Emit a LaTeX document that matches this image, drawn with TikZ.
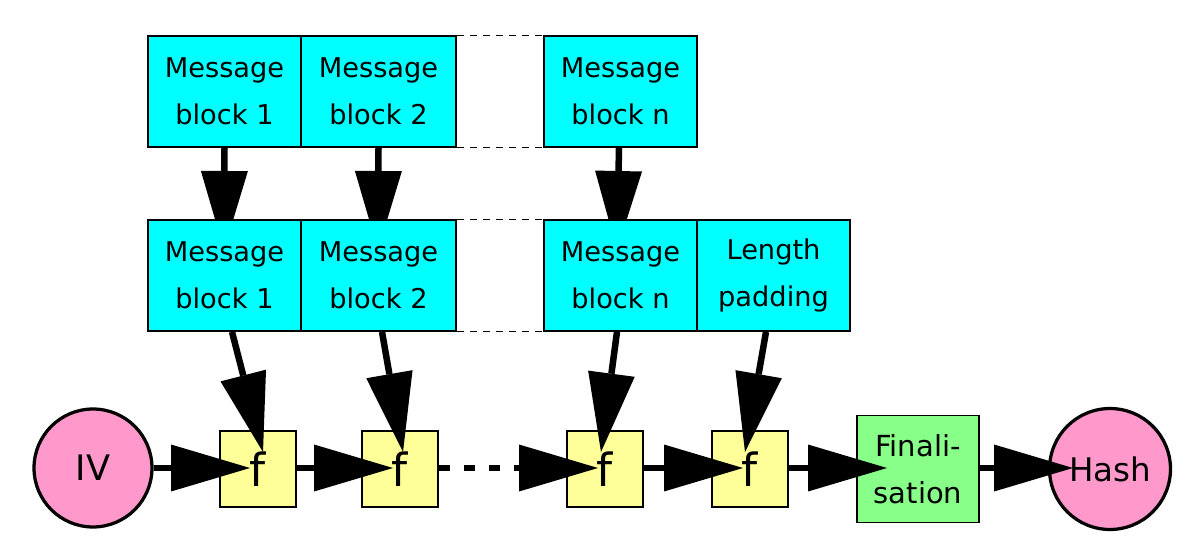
\documentclass[tikz,border=0pt]{standalone}
\usepackage{fontspec}
\setmainfont{DejaVu Sans}
\usetikzlibrary{arrows.meta,calc}
\definecolor{cyanbox}{HTML}{00FFFF}
\definecolor{fyellow}{HTML}{FFFF99}
\definecolor{fgreen}{HTML}{88FF88}
\definecolor{fpink}{HTML}{FF99CC}
\begin{document}
\begin{tikzpicture}[x=0.02cm,y=-0.02cm,
  blk/.style={draw=black, line width=0.035cm, fill=cyanbox, minimum width=3.06cm, minimum height=2.22cm, inner sep=0pt, align=center, font=\fontsize{15.5}{26.5}\selectfont},
  fblk/.style={draw=black, line width=0.035cm, fill=fyellow, minimum size=1.53cm, inner sep=0pt, font=\fontsize{26}{30}\selectfont},
  endpt/.style={draw=black, line width=0.065cm, fill=fpink, circle, minimum size=2.36cm, inner sep=0pt, font=\fontsize{20}{24}\selectfont},
  bigarrow/.style={line width=0.13cm, -{Triangle[length=1.58cm,width=0.94cm,line width=0pt]}},
  thindash/.style={line width=0.025cm, dash pattern=on 0.14cm off 0.12cm},
  thickdash/.style={line width=0.13cm, dash pattern=on 0.22cm off 0.28cm}]
\useasboundingbox (0,0) rectangle (1200,560);

% top row
\node[blk] (t1) at (224.5,91.5) {Message\\block 1};
\node[blk, minimum width=3.1cm] (t2) at (378.5,91.5) {Message\\block 2};
\node[blk] (tn) at (620.5,91.5) {Message\\block n};
\draw[thindash] (t2.north east) -- (tn.north west);
\draw[thindash] (t2.south east) -- (tn.south west);

% arrow tips hidden behind second row
\coordinate (a1) at (224,250);
\coordinate (a2) at (378,250);
\coordinate (an) at (617,250);
\draw[bigarrow] (t1.south) -- (a1);
\draw[bigarrow] (t2.south) -- (a2);
\draw[bigarrow] ($(tn.south)+(-1.5,0)$) -- (an);

% second row
\node[blk] (m1) at (224.5,275.5) {Message\\block 1};
\node[blk, minimum width=3.1cm] (m2) at (378.5,275.5) {Message\\block 2};
\node[blk] (mn) at (620.5,275.5) {Message\\block n};
\node[blk] (lp) at (773.5,275.5) {Length\\padding};
\draw[thindash] (m2.north east) -- (mn.north west);
\draw[thindash] (m2.south east) -- (mn.south west);

% bottom chain
\node[endpt] (iv) at (93,468) {IV};
\node[fblk] (f1) at (258,469) {f};
\node[fblk] (f2) at (400,469) {f};
\node[fblk] (f3) at (605,469) {f};
\node[fblk] (f4) at (750,469) {f};
\node[draw=black, line width=0.035cm, fill=fgreen, minimum width=2.44cm, minimum height=2.14cm, inner sep=0pt, align=center, font=\fontsize{16.5}{26.5}\selectfont] (fin) at (918,469) {Finali-\\sation};
\node[endpt, minimum size=2.42cm, font=\fontsize{18.5}{24}\selectfont] (hash) at (1110,469) {Hash};

% slanted arrows
\coordinate (b1) at (263,452);
\coordinate (b2) at (403,452);
\coordinate (bn) at (601,452);
\coordinate (bl) at (745,452);
\draw[bigarrow] ($(m1.south)+(7.5,0)$) -- (b1);
\draw[bigarrow] ($(m2.south)+(3.5,0)$) -- (b2);
\draw[bigarrow] ($(mn.south)+(-3.5,0)$) -- (bn);
\draw[bigarrow] ($(lp.south)+(-7.5,0)$) -- (bl);

% horizontal arrows
\coordinate (h1) at (250,468);
\coordinate (h2) at (393,468);
\coordinate (h3) at (598,468);
\coordinate (h4) at (743,468);
\coordinate (h5) at (887,468);
\coordinate (h6) at (1073,468);
\draw[bigarrow] (iv.east) -- (h1);
\draw[bigarrow] (f1.east |- h2) -- (h2);
\draw[thickdash] (f2.east |- h3) -- (519,468) coordinate (d3);
\draw[bigarrow] (d3) -- (h3);
\draw[bigarrow] (f3.east |- h4) -- (h4);
\draw[bigarrow] (f4.east |- h5) -- (h5);
\draw[bigarrow] (fin.east |- h6) -- (h6);
\end{tikzpicture}
\end{document}
